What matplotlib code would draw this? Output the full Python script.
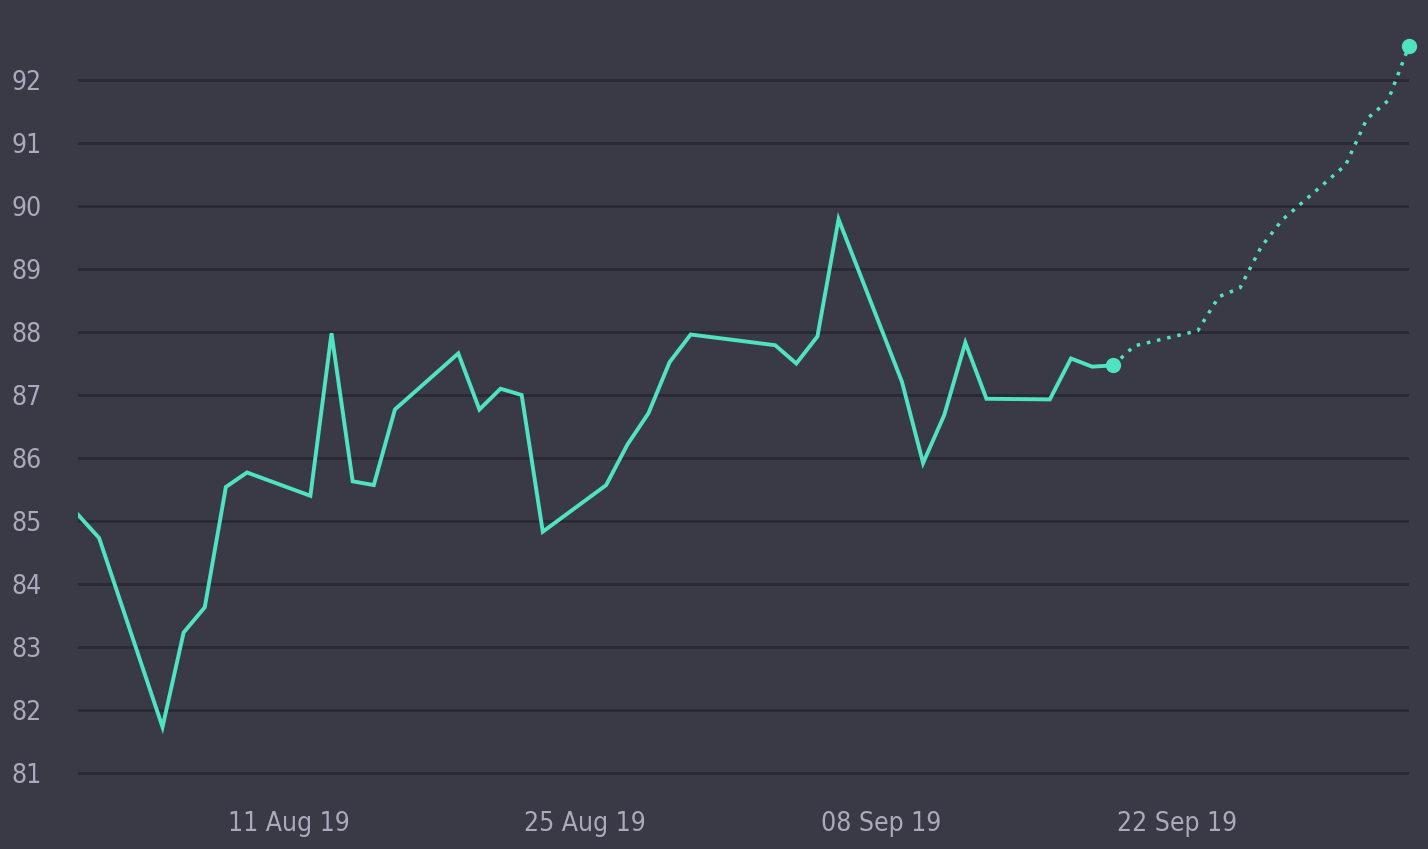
import matplotlib
matplotlib.use("Agg")
import matplotlib.pyplot as plt
import matplotlib.dates as mdates
from matplotlib import font_manager
import pandas as pd

# actual series (business days)
actual_dates = ["2019-08-01", "2019-08-02", "2019-08-05", "2019-08-06", "2019-08-07",
                "2019-08-08", "2019-08-09", "2019-08-12", "2019-08-13", "2019-08-14",
                "2019-08-15", "2019-08-16", "2019-08-19", "2019-08-20", "2019-08-21",
                "2019-08-22", "2019-08-23", "2019-08-26", "2019-08-27", "2019-08-28",
                "2019-08-29", "2019-08-30", "2019-09-03", "2019-09-04", "2019-09-05",
                "2019-09-06", "2019-09-09", "2019-09-10", "2019-09-11", "2019-09-12",
                "2019-09-13", "2019-09-16", "2019-09-17", "2019-09-18", "2019-09-19"]
actual_values = [85.10, 84.73, 81.73, 83.23, 83.63, 85.54, 85.77, 85.40, 87.98, 85.63,
                 85.57, 86.77, 87.66, 86.77, 87.10, 87.00, 84.83, 85.57, 86.21, 86.71,
                 87.52, 87.96, 87.79, 87.50, 87.93, 89.79, 87.21, 85.92, 86.68, 87.83,
                 86.94, 86.93, 87.58, 87.45, 87.47]

# forecast series
forecast_dates = ["2019-09-19", "2019-09-20", "2019-09-23", "2019-09-24", "2019-09-25",
                  "2019-09-26", "2019-09-27", "2019-09-30", "2019-10-01", "2019-10-02",
                  "2019-10-03"]
forecast_values = [87.47, 87.78, 88.02, 88.56, 88.70, 89.35, 89.78, 90.65, 91.38, 91.67,
                   92.54]

x_ticks = ["2019-08-11", "2019-08-25", "2019-09-08", "2019-09-22"]
y_ticks = list(range(81, 93))

bg = "#3a3a47"
teal = "#50e3c2"
grid_c = "#2a2a33"
text_c = "#aaaabb"


def wnum(w):
    try:
        return int(w)
    except (TypeError, ValueError):
        return {"light": 300, "normal": 400, "regular": 400, "book": 400,
                "medium": 500}.get(str(w).lower(), 700)


# look for a condensed face for the tick labels, fall back to Roboto
cands = [f for f in font_manager.fontManager.ttflist
         if f.style == "normal"
         and ("Condensed" in f.name or "Narrow" in f.name
              or f.stretch in ("condensed", "semi-condensed", "extra-condensed", 500 - 125))]
cands.sort(key=lambda f: abs(wnum(f.weight) - 380))
if cands:
    tick_fp = font_manager.FontProperties(fname=cands[0].fname, size=19)
else:
    tick_fp = font_manager.FontProperties(family=["Roboto", "DejaVu Sans"], size=18)

a_dates = pd.to_datetime(actual_dates)
f_dates = pd.to_datetime(forecast_dates)

fig = plt.figure(figsize=(14.28, 8.49), dpi=100, facecolor=bg)
ax = fig.add_axes([78 / 1428, 59 / 849, (1409 - 78) / 1428, 790 / 849])
ax.set_facecolor(bg)

ax.plot(a_dates, actual_values, color=teal, lw=2.8, solid_joinstyle="miter", zorder=3)
ax.plot(f_dates, forecast_values, color=teal, lw=2.5, linestyle=(0, (1, 2.0)), zorder=3)
ax.plot([f_dates[0]], [forecast_values[0]], "o", color=teal, ms=10, zorder=4, clip_on=False)
ax.plot([f_dates[-1]], [forecast_values[-1]], "o", color=teal, ms=10, zorder=4, clip_on=False)

ax.set_xlim(pd.Timestamp("2019-08-01"), pd.Timestamp("2019-10-03"))
ax.set_ylim(80.73, 93.27)
ax.set_yticks(y_ticks)
ax.set_xticks(pd.to_datetime(x_ticks))
ax.xaxis.set_major_formatter(mdates.DateFormatter("%d %b %y"))

ax.grid(axis="y", color=grid_c, lw=2)
ax.grid(axis="x", visible=False)
ax.set_axisbelow(True)
for s in ax.spines.values():
    s.set_visible(False)
ax.tick_params(axis="both", length=0, colors=text_c)
ax.tick_params(axis="y", pad=26)
ax.tick_params(axis="x", pad=15)
for lab in ax.get_xticklabels() + ax.get_yticklabels():
    lab.set_fontproperties(tick_fp)

fig.savefig("out.png", dpi=100, facecolor=bg)
